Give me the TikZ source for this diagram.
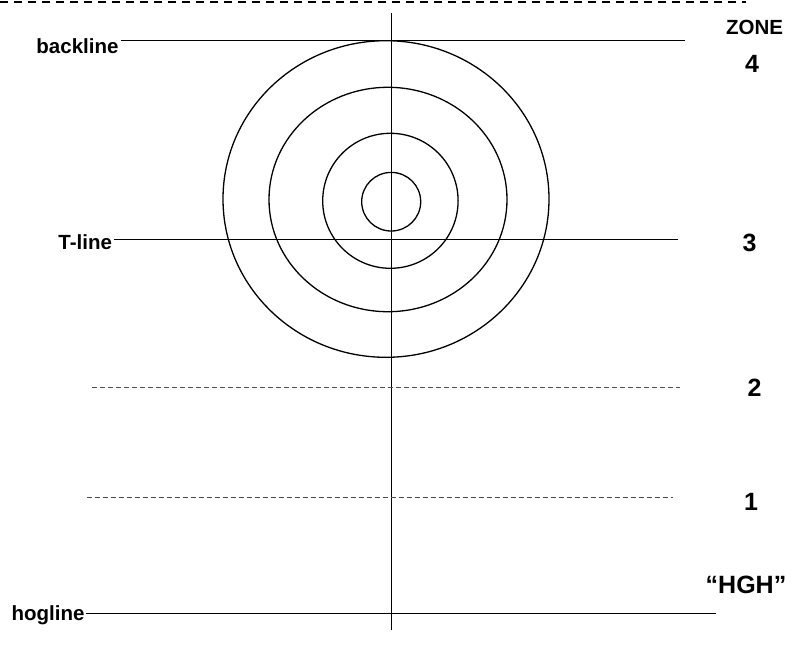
\documentclass[tikz,border=0pt]{standalone}
\usepackage{fontspec}
\setmainfont{Liberation Sans}
\usetikzlibrary{positioning}

\begin{document}
\begin{tikzpicture}[x=1pt, y=-1pt, line width=1pt,
    lbl/.style={font=\bfseries\fontsize{20.5}{24}\selectfont, inner sep=0pt},
    zonelbl/.style={font=\bfseries\fontsize{25}{30}\selectfont, inner sep=0pt},
    zoneline/.style={draw=black!70, line width=0.8pt, dash pattern=on 5pt off 3pt},
    ring/.style={line width=1.3pt}]
    \useasboundingbox (0,0) rectangle (793,659);

    % edge of the sheet
    \coordinate (edgeL) at (0,2);
    \coordinate (edgeR) at (746,2);
    \draw[line width=1.6pt, dash pattern=on 8pt off 6pt] (edgeL) -- (edgeR);

    % centre line
    \coordinate (ctop) at (391.5,13);
    \coordinate (cbot) at (391.5,630);
    \draw (ctop) -- (cbot);

    % the house
    \draw[ring] (386,199) ellipse [x radius=163, y radius=158.3];
    \draw[ring] (388,199.5) ellipse [x radius=119, y radius=112.2];
    \draw[ring] (390.4,200.8) ellipse [x radius=67.7, y radius=67.5];
    \draw[ring] (391.2,201.7) ellipse [x radius=29.5, y radius=29.3];

    % named lines
    \node[lbl, anchor=base east] (back) at (119,53) {backline};
    \coordinate (backR) at (685,40.5);
    \draw ([xshift=2pt]back.east |- backR) -- (backR);

    \node[lbl, anchor=base east] (tline) at (112.5,249) {T-line};
    \coordinate (tlineR) at (678,239.3);
    \draw ([xshift=1.5pt]tline.east |- tlineR) -- (tlineR);

    \node[lbl, anchor=base east] (hog) at (85,620) {hogline};
    \coordinate (hogR) at (716,613.5);
    \draw ([xshift=1pt]hog.east |- hogR) -- (hogR);

    % zone limits
    \coordinate (twoL) at (92,387.3);
    \coordinate (twoR) at (680,387.3);
    \draw[zoneline] (twoL) -- (twoR);
    \coordinate (oneL) at (87,497);
    \coordinate (oneR) at (673,497);
    \draw[zoneline] (oneL) -- (oneR);

    % zone numbers
    \node[lbl] (zone) at (754.5,27.5) {ZONE};
    \node[zonelbl] (z4) at (752,64.2) {4};
    \node[zonelbl] (z3) at (749.5,243) {3};
    \node[zonelbl] (z2) at (754.5,388) {2};
    \node[zonelbl] (z1) at (751,502) {1};
    \node[zonelbl] (hgh) at (746,585) {“HGH”};
\end{tikzpicture}
\end{document}
